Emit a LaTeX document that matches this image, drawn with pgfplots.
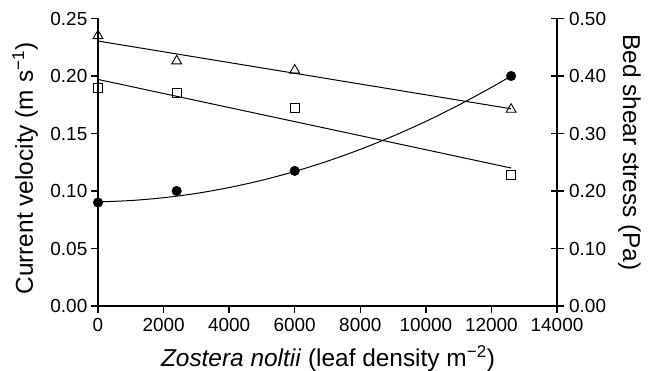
\documentclass[border=0pt]{standalone}
\usepackage{pgfplots}
\pgfplotsset{compat=1.18}
\usepackage{fontspec}
\setmainfont{Liberation Sans}

% velocity measurements (left axis)
\pgfplotstableread{
x      tri    sq
0      0.235  0.190
2400   0.213  0.185
6000   0.205  0.172
12600  0.171  0.114
}\velocity
% bed shear stress (right axis)
\pgfplotstableread{
x      tau
0      0.180
2400   0.200
6000   0.235
12600  0.400
}\shear
% quadratic fit of bed shear stress
\pgfplotstableread{
x      tau
0      0.1810
1000   0.1834
2000   0.1883
3000   0.1958
4000   0.2060
5000   0.2187
6000   0.2340
7000   0.2519
8000   0.2724
9000   0.2955
10000  0.3211
11000  0.3494
12000  0.3802
12600  0.4000
}\shearfit

\newcommand\tickfont{\fontsize{19}{22}\selectfont}
\newcommand\labelfont{\fontsize{24.5}{28}\selectfont}

\begin{document}
\begin{tikzpicture}
\pgfplotsset{
  every axis/.append style={
    scale only axis, width=459bp, height=287.5bp,
    xmin=0, xmax=14000,
    axis line style={line width=1.3pt},
    every tick/.style={line width=1.3pt, black},
    /pgf/number format/assume math mode=true,
    clip=false,
    tick label style={font=\tickfont},
    label style={font=\labelfont},
  }
}
\useasboundingbox (-98bp,-65bp) rectangle (556bp,306bp);
\begin{axis}[
  at={(0,0)}, anchor=origin,
  ymin=0, ymax=0.25,
  axis x line*=bottom, axis y line*=left,
  tick align=outside, major tick length=7bp,
  xtick={0,2000,...,14000},
  scaled x ticks=false,
  ytick={0,0.05,0.10,0.15,0.20,0.25},
  y tick label style={/pgf/number format/fixed, /pgf/number format/fixed zerofill, /pgf/number format/precision=2, inner sep=2bp, xshift=-1.5bp},
  x tick label style={/pgf/number format/1000 sep={}, inner sep=2bp, yshift=-3.5bp},
  xlabel={\textit{Zostera noltii} (leaf density m\textsuperscript{−2})},
  xlabel style={at={([yshift=-60bp]axis description cs:0.501,0)}, anchor=base},
  ylabel={Current velocity (m s\textsuperscript{−1})},
  ylabel style={at={([xshift=-65bp]axis description cs:0,0.478)}, anchor=base},
]
\addplot[black, line width=1pt, no marks] coordinates {(0,0.2304) (12600,0.1715)};
\addplot[black, line width=1pt, no marks] coordinates {(0,0.197) (12600,0.120)};
\addplot[only marks, mark=triangle, mark size=5.7bp, mark options={fill=white, line width=0.9pt}] table[x=x, y=tri] {\velocity};
\addplot[only marks, mark=square, mark size=4.5bp, mark options={fill=white, line width=0.9pt}] table[x=x, y=sq] {\velocity};
\end{axis}
\begin{axis}[
  at={(0,0)}, anchor=origin,
  ymin=0, ymax=0.5,
  axis x line=none, axis y line*=right,
  tick align=center, major tick length=13bp,
  ytick={0,0.1,0.2,0.3,0.4,0.5},
  y tick label style={/pgf/number format/fixed, /pgf/number format/fixed zerofill, /pgf/number format/precision=2, inner sep=2bp, xshift=3.5bp},
  ylabel={Bed shear stress (Pa)},
  ylabel style={rotate=180, at={([xshift=66bp]axis description cs:1,0.534)}, anchor=base},
]
\addplot[black, line width=1pt, no marks, smooth] table[x=x, y=tau] {\shearfit};
\addplot[only marks, mark=*, mark size=4.8bp, mark options={fill=black}] table[x=x, y=tau] {\shear};
\end{axis}
\end{tikzpicture}
\end{document}
